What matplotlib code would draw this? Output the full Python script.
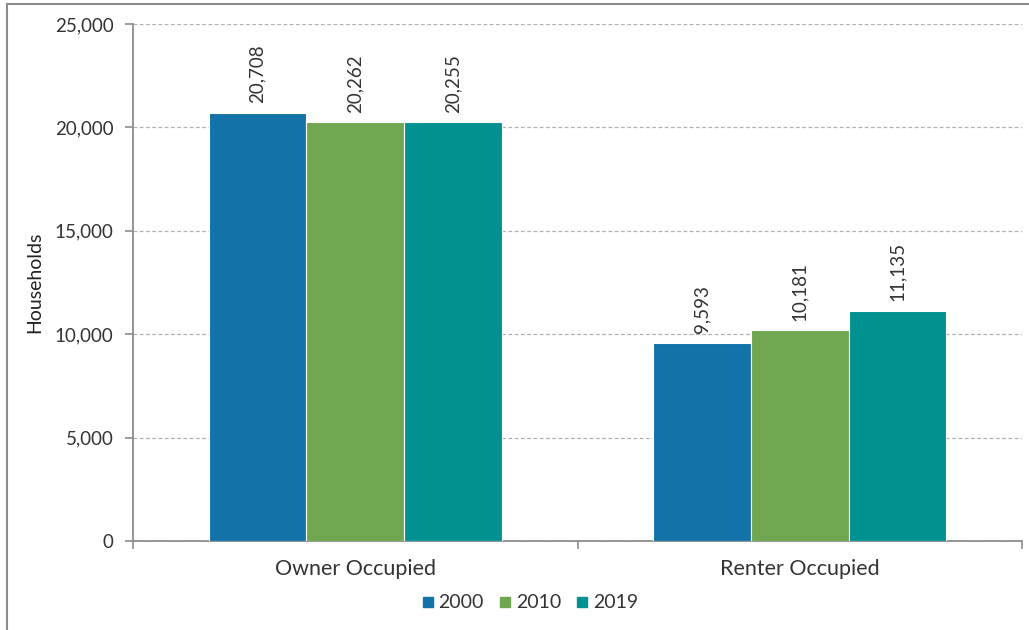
import numpy as np
import matplotlib
matplotlib.use("Agg")
from matplotlib import pyplot as plt
from matplotlib.lines import Line2D

plt.rcParams['font.family'] = ['Lato', 'DejaVu Sans']

categories = ['Owner Occupied', 'Renter Occupied']
years = ['2000', '2010', '2019']
vals_2000 = [20708, 9593]
vals_2010 = [20262, 10181]
vals_2019 = [20255, 11135]
colors = ['#1372A7', '#70A64F', '#009190']

fig = plt.figure(figsize=(10.29, 6.3), dpi=100)
ax = fig.add_axes([133/1029, 1 - 541/630, 889/1029, 517/630])

x = np.arange(len(categories))
w = 0.22
series = [vals_2000, vals_2010, vals_2019]
for i, (yr, vals, c) in enumerate(zip(years, series, colors)):
    pos = x + (i - 1) * w
    bars = ax.bar(pos, vals, width=w, color=c, edgecolor='white', linewidth=0.8, label=yr, zorder=3)
    for p, v in zip(pos, vals):
        ax.text(p, v + 450, f'{v:,}', rotation=90, ha='center', va='bottom',
                fontsize=13.5, color='#333333')

ax.set_xlim(-0.5, 1.5)
ax.set_ylim(0, 25000)
ax.set_yticks(np.arange(0, 25001, 5000))
ax.yaxis.set_major_formatter(matplotlib.ticker.FuncFormatter(lambda v, p: f'{int(v):,}'))
ax.yaxis.grid(True, linestyle=(0, (3, 2)), color='#b0b0b0', linewidth=0.9, zorder=0)

# category boundaries as tick marks, labels at centers
ax.set_xticks([-0.5, 0.5, 1.5])
ax.set_xticklabels([])
ax.set_xticks(x, minor=True)
ax.set_xticklabels(categories, minor=True)
ax.tick_params(axis='x', which='minor', length=0, labelsize=15.5, pad=13, colors='#333333')
ax.tick_params(axis='x', which='major', length=6, color='#8c8c8c', width=1.2)
ax.tick_params(axis='y', length=6, color='#8c8c8c', width=1.2, labelsize=13.5,
               labelcolor='#333333', pad=8)

for s in ['top', 'right']:
    ax.spines[s].set_visible(False)
for s in ['left', 'bottom']:
    ax.spines[s].set_color('#8c8c8c')
    ax.spines[s].set_linewidth(1.3)

ax.set_ylabel('Households', fontsize=14, color='#222222', labelpad=8)

handles = [Line2D([], [], marker='s', linestyle='', color=c, markersize=7) for c in colors]
fig.legend(handles, years, loc='center', bbox_to_anchor=(528/1029, 1 - 603/630), ncol=3,
           frameon=False, fontsize=14, handletextpad=0.05, columnspacing=0.6,
           handlelength=1.0, labelcolor='#333333')

# outer frame lines
fig.add_artist(Line2D([7/1029, 7/1029], [0, 1 - 4/630], color='#8c8c8c', linewidth=1.5,
                      transform=fig.transFigure))
fig.add_artist(Line2D([7/1029, 1], [1 - 4/630, 1 - 4/630], color='#8c8c8c', linewidth=1.5,
                      transform=fig.transFigure))

fig.savefig('out.png', dpi=100)
